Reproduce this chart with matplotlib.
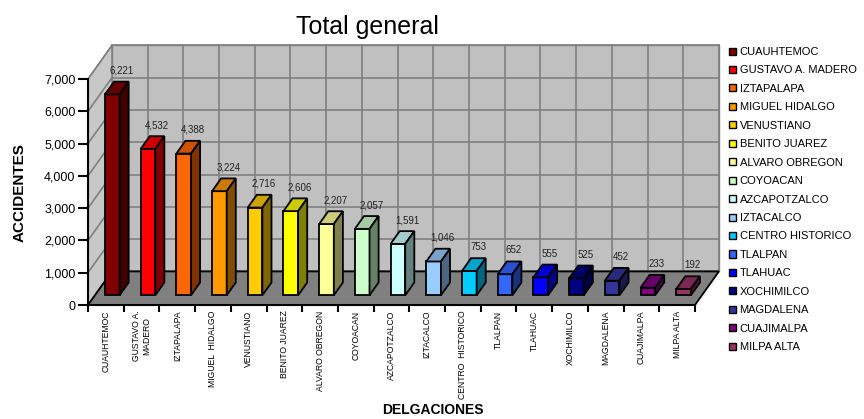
import matplotlib
matplotlib.use("Agg")
import matplotlib.pyplot as plt
from matplotlib.patches import Polygon, Patch

plt.rcParams['font.family'] = ['Liberation Sans', 'DejaVu Sans']

delegaciones = ["CUAUHTEMOC", "GUSTAVO A. MADERO", "IZTAPALAPA", "MIGUEL HIDALGO",
                "VENUSTIANO", "BENITO JUAREZ", "ALVARO OBREGON", "COYOACAN",
                "AZCAPOTZALCO", "IZTACALCO", "CENTRO HISTORICO", "TLALPAN",
                "TLAHUAC", "XOCHIMILCO", "MAGDALENA", "CUAJIMALPA", "MILPA ALTA"]
tick_labels = ["CUAUHTEMOC", "GUSTAVO A.\nMADERO", "IZTAPALAPA", "MIGUEL  HIDALGO",
               "VENUSTIANO", "BENITO JUAREZ", "ALVARO OBREGON", "COYOACAN",
               "AZCAPOTZALCO", "IZTACALCO", "CENTRO  HISTORICO", "TLALPAN",
               "TLAHUAC", "XOCHIMILCO", "MAGDALENA", "CUAJIMALPA", "MILPA ALTA"]
accidentes = [6221, 4532, 4388, 3224, 2716, 2606, 2207, 2057, 1591,
              1046, 753, 652, 555, 525, 452, 233, 192]
colores = ["#800000", "#FF0000", "#FF6600", "#FF9900", "#FFCC00", "#FFFF00",
           "#FFFF99", "#CCFFCC", "#CCFFFF", "#99CCFF", "#00CCFF", "#3366FF",
           "#0000FF", "#000080", "#333399", "#800080", "#993366"]


def shade(c, f):
    r, g, b = matplotlib.colors.to_rgb(c)
    return (r * f, g * f, b * f)


W, H = 864, 419
fig = plt.figure(figsize=(W / 100, H / 100), dpi=100)
# front axis box in pixels: x 88..695, y 305 (0) .. 79 (7000)
ax = fig.add_axes([88 / W, 1 - 305 / H, (695 - 88) / W, (305 - 79) / H])
n = len(accidentes)
ymax = 7000
ax.set_xlim(0, n)
ax.set_ylim(0, ymax)

DX, DY = 0.67, 1040     # full depth of the 3d box
gray_line = "#808080"

# back wall
ax.add_patch(Polygon([(DX, DY), (n + DX, DY), (n + DX, ymax + DY), (DX, ymax + DY)],
                     closed=True, fc="#C0C0C0", ec=gray_line, lw=1, clip_on=False, zorder=0))
for v in range(0, ymax + 1, 1000):
    ax.plot([DX, n + DX], [v + DY, v + DY], color=gray_line, lw=1.2, clip_on=False, zorder=1)
for i in range(n + 1):
    ax.plot([i + DX, i + DX], [DY, ymax + DY], color=gray_line, lw=1.2, clip_on=False, zorder=1)

# left wall
ax.add_patch(Polygon([(0, 0), (DX, DY), (DX, ymax + DY), (0, ymax)],
                     closed=True, fc="#C8C8C8", ec=gray_line, lw=1, clip_on=False, zorder=1))
for v in range(0, ymax + 1, 1000):
    ax.plot([0, DX], [v, v + DY], color=gray_line, lw=1.2, clip_on=False, zorder=1)

# floor
ax.add_patch(Polygon([(0, 0), (n, 0), (n + DX, DY), (DX, DY)],
                     closed=True, fc="#808080", ec="black", lw=1.3, clip_on=False, zorder=2))

# bars
f0 = 0.29
bw = 0.41
bdx, bdy = 0.38 * DX, 0.38 * DY
base = f0 * DY
for i, (v, c) in enumerate(zip(accidentes, colores)):
    x0 = i + 0.28 + f0 * DX
    x1 = x0 + bw
    top = base + v
    ax.bar(x0, v, bottom=base, width=bw, align="edge", color=c,
           edgecolor="black", linewidth=1.3, zorder=3)
    ax.add_patch(Polygon([(x0, top), (x1, top), (x1 + bdx, top + bdy), (x0 + bdx, top + bdy)],
                         closed=True, fc=shade(c, 0.8), ec="black", lw=1.3, zorder=3,
                         clip_on=False))
    ax.add_patch(Polygon([(x1, base), (x1, top), (x1 + bdx, top + bdy), (x1 + bdx, base + bdy)],
                         closed=True, fc=shade(c, 0.5), ec="black", lw=1.3, zorder=3,
                         clip_on=False))
    ax.text(x0 + bw / 2 + bdx, top + bdy + 340, f"{v:,}", ha="center", va="center",
            fontsize=7, color="#222222", zorder=4, clip_on=False)

# axes look
for s in ["top", "right"]:
    ax.spines[s].set_visible(False)
ax.spines["left"].set_linewidth(1.5)
ax.spines["bottom"].set_linewidth(1.5)
ax.spines["left"].set_zorder(5)
ax.spines["bottom"].set_zorder(5)
ax.patch.set_visible(False)

ax.set_yticks(range(0, ymax + 1, 1000))
ax.set_yticklabels([f"{v:,}" for v in range(0, ymax + 1, 1000)], fontsize=9)
ax.tick_params(axis="y", length=7, width=1.5, pad=2)

ax.set_xticks(range(n + 1))
ax.set_xticklabels([])
ax.tick_params(axis="x", which="major", length=5, width=1.5)
ax.set_xticks([i + 0.5 for i in range(n)], minor=True)
ax.set_xticklabels(tick_labels, minor=True, rotation=90, fontsize=6.2,
                   va="top", ha="center", linespacing=1.1)
ax.tick_params(axis="x", which="minor", length=0, pad=4)

fig.text(367 / W, 1 - 27 / H, "Total general", ha="center", va="center", fontsize=18)
fig.text(19.5 / W, 1 - 193 / H, "ACCIDENTES", ha="center", va="center",
         rotation=90, fontsize=11, fontweight="bold")
fig.text(433 / W, 1 - 410 / H, "DELGACIONES", ha="center", va="center",
         fontsize=10, fontweight="bold")

handles = [Patch(facecolor=c, edgecolor="black", linewidth=1.0) for c in colores]
fig.legend(handles, delegaciones, loc="upper left",
           bbox_to_anchor=(729 / W, 1 - 47 / H), frameon=False, fontsize=8,
           handlelength=0.6, handleheight=0.6, handletextpad=0.35,
           labelspacing=0.76, borderpad=0, borderaxespad=0)

fig.savefig("out.png", dpi=100)
